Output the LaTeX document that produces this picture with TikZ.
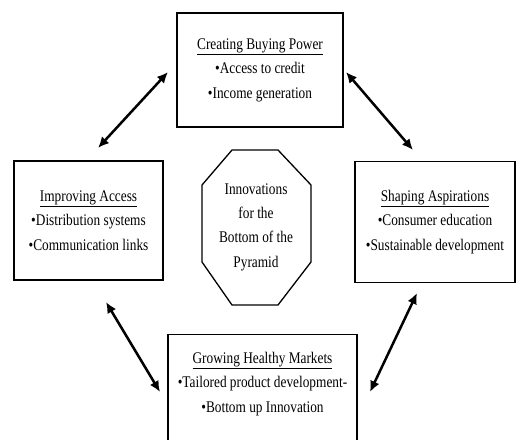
\documentclass[tikz,border=0pt]{standalone}
\usepackage{fontspec}
\setmainfont{Liberation Serif}[FakeStretch=0.82]
\usepackage{tikz}
\usetikzlibrary{arrows.meta}

\begin{document}
\begin{tikzpicture}[x=1bp, y=-1bp, font=\fontsize{16.3}{24.5}\selectfont,
	box/.style={draw, line width=1.3bp, align=center, inner sep=0pt},
	link/.style={line width=2.5bp, {Latex[length=11bp,width=10bp]}-{Latex[length=11bp,width=10bp]}}]
	\useasboundingbox (0,0) rectangle (517,440);
	\clip (0,0) rectangle (517,440);
	\node[box, minimum width=166bp, minimum height=114bp] (power) at (260,70) {\underline{Creating Buying Power}\\\textbullet Access to credit\\\textbullet Income generation};
	\node[box, minimum width=149bp, minimum height=119bp] (access) at (88.5,220.5) {\underline{Improving Access}\\\textbullet Distribution systems\\\textbullet Communication links};
	\node[box, minimum width=160bp, minimum height=121bp] (aspire) at (435,222) {\underline{Shaping Aspirations}\\\textbullet Consumer education\\\textbullet Sustainable development};
	\node[box, minimum width=189bp, minimum height=140bp, anchor=north] (markets) at (262.5,334) {};
	\node[align=center, inner sep=0pt] (marketstext) at (262.5,384) {\underline{Growing Healthy Markets}\\\textbullet Tailored product development-\\\textbullet Bottom up Innovation};
	\node[align=center, inner sep=0pt] (bop) at (256,227) {Innovations\\for the\\Bottom of the\\Pyramid};
	\draw[line width=1.3bp] (232,150) -- (278,150) -- (311,185) -- (311,262) -- (278,305) -- (232,305) -- (202,262) -- (202,185) -- cycle;
	\coordinate (pa1) at (98,148);
	\coordinate (pa2) at (168,72);
	\coordinate (ps1) at (346,72);
	\coordinate (ps2) at (413,150);
	\coordinate (am1) at (106,302);
	\coordinate (am2) at (160,392);
	\coordinate (sm1) at (417,293);
	\coordinate (sm2) at (370,392);
	\draw[link] (pa1) -- (pa2);
	\draw[link] (ps1) -- (ps2);
	\draw[link] (am1) -- (am2);
	\draw[link] (sm1) -- (sm2);
\end{tikzpicture}
\end{document}
